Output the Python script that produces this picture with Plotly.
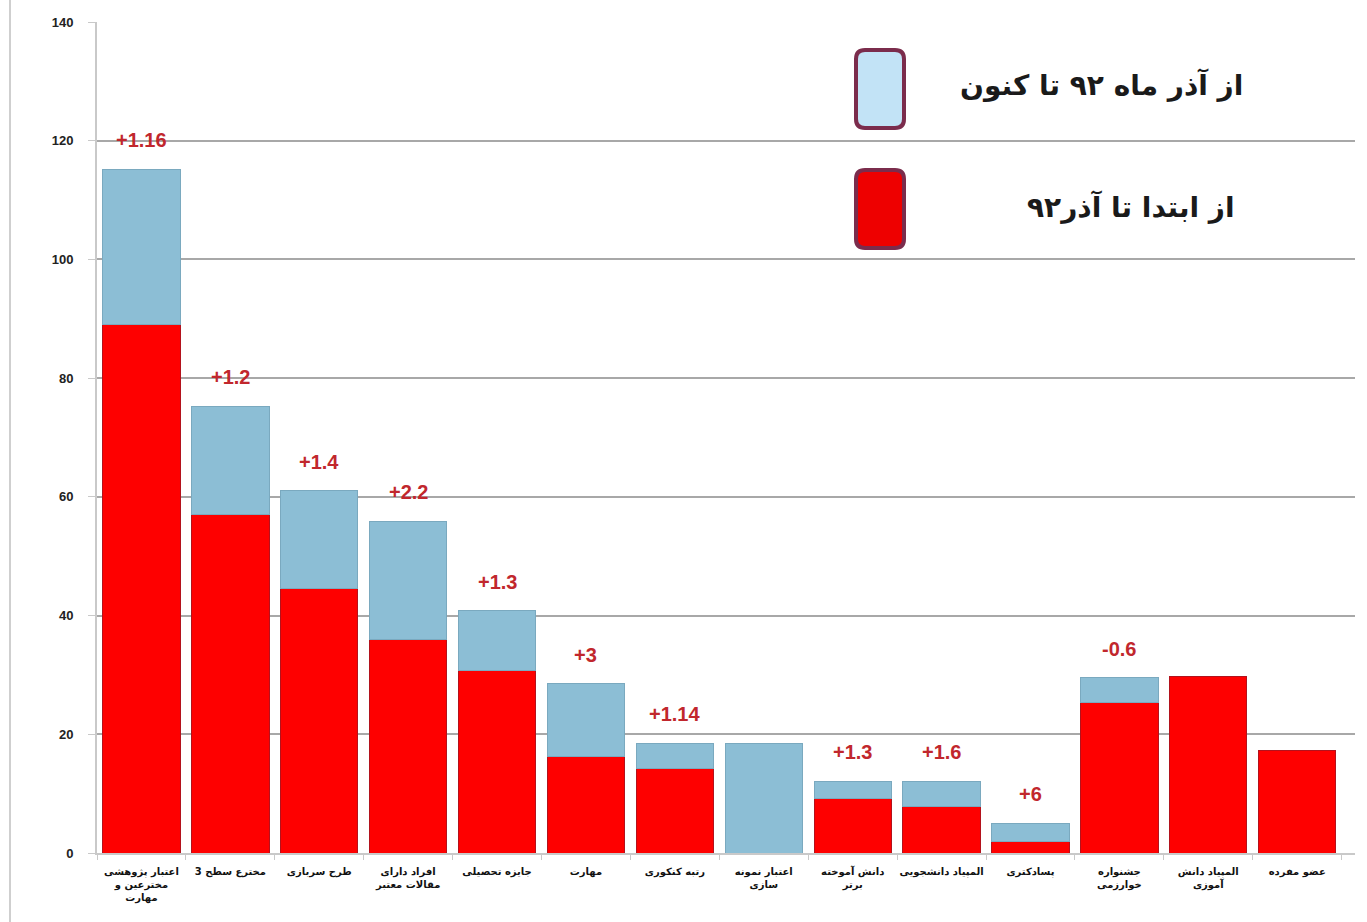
import plotly.graph_objects as go

# ---------------- data ----------------
categories = [
    "اعتبار پژوهشی<br>مخترعین و<br>مهارت",
    "مخترع سطح 3",
    "طرح سربازی",
    "افراد دارای<br>مقالات معتبر",
    "جایزه تحصیلی",
    "مهارت",
    "رتبه کنکوری",
    "اعتبار نمونه<br>سازی",
    "دانش آموخته<br>برتر",
    "المپیاد دانشجویی",
    "پسادکتری",
    "جشنواره<br>خوارزمی",
    "المپیاد دانش<br>آموزی",
    "عضو مفرده",
]
until_azar92 = [89.1, 57.1, 44.6, 35.9, 30.7, 16.2, 14.3, 0, 9.1, 7.9, 2.0, 25.4, 29.8, 17.2]
since_azar92 = [26.1, 18.2, 16.4, 20.0, 10.1, 12.3, 4.2, 18.5, 3.0, 4.2, 3.0, 4.1, 0, 0]
change_labels = ["+1.16", "+1.2", "+1.4", "+2.2", "+1.3", "+3", "+1.14", "", "+1.3", "+1.6", "+6", "-0.6", "", ""]
y_ticks = [0, 20, 40, 60, 80, 100, 120, 140]
series_names = ["از ابتدا تا آذر۹۲", "از آذر ماه ۹۲ تا کنون"]

# ---------------- styles ----------------
RED = "#fe0000"
BLUE = "#8cbed5"
LABEL_RED = "#c1272d"
GRID = "#a8a8a8"
AXIS = "#c9c9c9"
BOX_BORDER = "#7b2c4c"

W, H = 1367, 922
ML, MR, MT, MB = 97, 12, 22, 69
PW, PH = W - ML - MR, H - MT - MB


def px_x(px):
    return (px - ML) / PW


def px_y(py):
    return (H - MB - py) / PH


def nz(values):
    # zero-height segments are not drawn at all
    return [v if v else None for v in values]


fig = go.Figure()
fig.add_trace(go.Bar(
    x=categories, y=nz(until_azar92), name=series_names[0],
    marker=dict(color=RED, line=dict(color="#b3121c", width=1)),
    showlegend=False,
))
fig.add_trace(go.Bar(
    x=categories, y=nz(since_azar92), name=series_names[1],
    marker=dict(color=BLUE, line=dict(color="#7aa9bf", width=1)),
    showlegend=False,
))

totals = [a + b for a, b in zip(until_azar92, since_azar92)]
for cat, tot, lab in zip(categories, totals, change_labels):
    if not lab:
        continue
    fig.add_annotation(
        x=cat, y=tot, text=lab, showarrow=False,
        yanchor="bottom", yshift=16,
        font=dict(family="Liberation Sans", size=20, color=LABEL_RED, weight="bold"),
    )


def rounded_rect(x0, y0, x1, y1, r_px=9):
    rx = r_px / PW
    ry = r_px / PH
    return (f"M {x0+rx},{y0} L {x1-rx},{y0} Q {x1},{y0} {x1},{y0+ry} "
            f"L {x1},{y1-ry} Q {x1},{y1} {x1-rx},{y1} L {x0+rx},{y1} "
            f"Q {x0},{y1} {x0},{y1-ry} L {x0},{y0+ry} Q {x0},{y0} {x0+rx},{y0} Z")


# custom legend (box on the left, Persian text on the right)
legend_items = [
    (series_names[1], "#c2e3f6", 50, 128, 1245, 85),
    (series_names[0], "#ee0000", 170, 248, 1237, 207),
]
for name, fill, top, bot, text_right, text_y in legend_items:
    fig.add_shape(
        type="path", xref="paper", yref="paper",
        path=rounded_rect(px_x(856), px_y(bot), px_x(904), px_y(top)),
        fillcolor=fill, line=dict(color=BOX_BORDER, width=4), layer="above",
    )
    fig.add_annotation(
        x=px_x(text_right), y=px_y(text_y), xref="paper", yref="paper",
        xanchor="right", yanchor="middle", showarrow=False, text=name,
        font=dict(family="DejaVu Sans", size=28, color="#1a1a1a", weight="bold"),
    )

# left border line of the picture
fig.add_shape(
    type="line", xref="paper", yref="paper",
    x0=px_x(10), x1=px_x(10), y0=px_y(0), y1=px_y(922),
    line=dict(color="#cfcfcf", width=2),
)

fig.update_layout(
    width=W, height=H,
    margin=dict(l=ML, r=MR, t=MT, b=MB),
    barmode="stack", bargap=0.13,
    plot_bgcolor="white", paper_bgcolor="white",
    showlegend=False,
)
fig.update_xaxes(
    range=[-0.5, 13.65], showgrid=False,
    showline=True, linecolor=AXIS, linewidth=2,
    ticks="outside", tickson="boundaries", ticklen=5, tickcolor=AXIS,
    tickangle=0, ticklabelstandoff=8,
    tickfont=dict(family="DejaVu Sans", size=10, color="#111", weight="bold"),
)
fig.update_yaxes(
    range=[0, 140], tickvals=y_ticks,
    showgrid=True, gridcolor=GRID, gridwidth=2,
    showline=True, linecolor=AXIS, linewidth=2,
    ticks="outside", ticklen=7, tickcolor=AXIS,
    ticklabelstandoff=12, zeroline=False,
    tickfont=dict(family="Liberation Sans", size=13, color="#222", weight="bold"),
)

fig.write_html(
    "out.html",
    config={"displayModeBar": False},
    post_script="document.body.style.margin='0';",
)
